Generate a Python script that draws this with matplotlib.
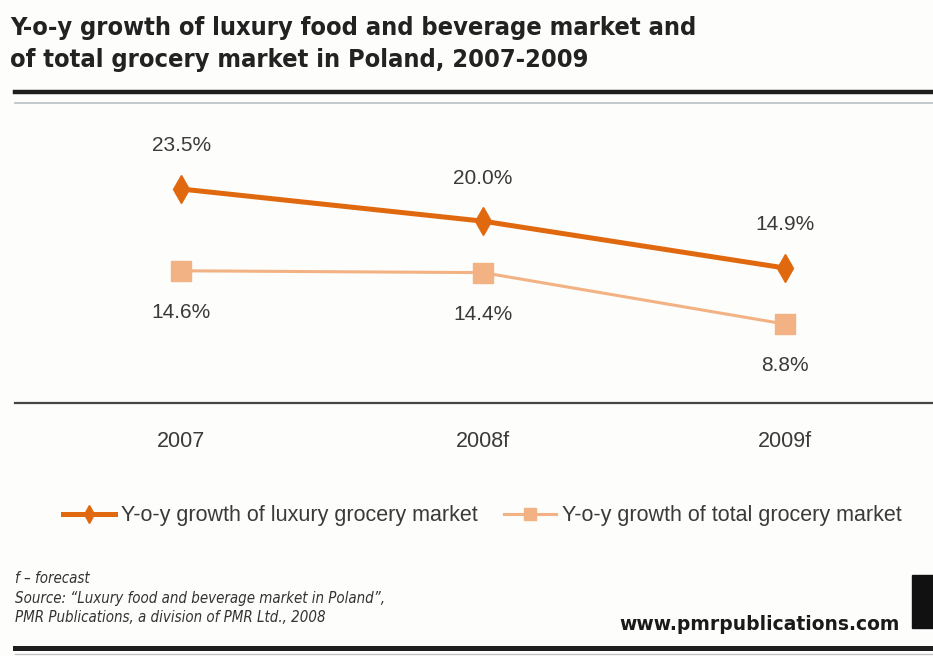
import matplotlib
matplotlib.use("Agg")
import matplotlib.pyplot as plt
from matplotlib.lines import Line2D
from matplotlib.patches import Rectangle

# data
years = ["2007", "2008f", "2009f"]
luxury = [23.5, 20.0, 14.9]
total = [14.6, 14.4, 8.8]
series_names = ["Y-o-y growth of luxury grocery market",
                "Y-o-y growth of total grocery market"]

DARK = "#E0690F"
LIGHT = "#F2B283"
TXT = "#3a3a3a"
BG = "#FDFDFB"

W, H = 933, 656
fig = plt.figure(figsize=(W / 100, H / 100), dpi=100, facecolor=BG)


def fx(px):
    return px / W


def fy(py):
    return 1 - py / H


# plot area: axis line at y=403 px, runs from x=15 px to right edge
ax = fig.add_axes([fx(15), fy(403), 1 - fx(15), fy(110) - fy(403)])
ax.set_facecolor(BG)
x = list(range(len(years)))

ax.plot(x, luxury, color=DARK, lw=3.6, marker="d", ms=14, mec=DARK, mfc=DARK,
        label=series_names[0], zorder=3)
ax.plot(x, total, color=LIGHT, lw=2.2, marker="s", ms=15, mec=LIGHT, mfc=LIGHT,
        label=series_names[1], zorder=2)

for xi, v in zip(x, luxury):
    ax.annotate(f"{v:.1f}%", (xi, v), xytext=(0, 31), textcoords="offset points",
                ha="center", va="center", fontsize=15, color=TXT,
                family="Liberation Sans")
for xi, v in zip(x, total):
    ax.annotate(f"{v:.1f}%", (xi, v), xytext=(0, -30), textcoords="offset points",
                ha="center", va="center", fontsize=15, color=TXT,
                family="Liberation Sans")

ax.set_xlim(-0.55, 2.49)
ax.set_ylim(0.21, 32.1)
ax.set_yticks([])
ax.set_xticks(x)
ax.set_xticklabels(years, fontsize=15.5, color=TXT, family="Liberation Sans")
ax.tick_params(axis="x", length=0, pad=20)
for s in ["top", "left", "right"]:
    ax.spines[s].set_visible(False)
ax.spines["bottom"].set_color("#454545")
ax.spines["bottom"].set_linewidth(1.6)

# legend
leg = fig.legend(loc="center left", bbox_to_anchor=(fx(44), fy(516)), ncol=2,
                 frameon=False, handlelength=2.4, handletextpad=0.3,
                 columnspacing=1.2, prop={"family": "Liberation Sans", "size": 15.5})
for t in leg.get_texts():
    t.set_color(TXT)
for h, ms in zip(leg.legend_handles, [9, 8]):
    h.set_markersize(ms)

# title
fig.text(fx(10), fy(44), "Y-o-y growth of luxury food and beverage market and\n"
         "of total grocery market in Poland, 2007-2009",
         ha="left", va="center", fontsize=18.2, fontweight="bold", color="#222222",
         family="DejaVu Sans", fontstretch="condensed", linespacing=1.43)

# rules at top and bottom
fig.add_artist(Line2D([fx(15), 1], [fy(92), fy(92)], color="#1e1e1e", lw=3.2))
fig.add_artist(Line2D([fx(15), 1], [fy(103), fy(103)], color="#b9bfc3", lw=1.2))
fig.add_artist(Line2D([fx(15), 1], [fy(648), fy(648)], color="#1e1e1e", lw=3.6))
fig.add_artist(Line2D([fx(15), 1], [fy(654), fy(654)], color="#b9bfc3", lw=0.9))

# footer
fig.text(fx(15), fy(598), "f – forecast\nSource: \u201cLuxury food and beverage market in Poland\u201d,\n"
         "PMR Publications, a division of PMR Ltd., 2008",
         ha="left", va="center", fontsize=10.8, style="italic", color="#333333",
         family="DejaVu Sans", fontstretch="condensed", linespacing=1.4)
fig.text(fx(900), fy(625), "www.pmrpublications.com", ha="right", va="center",
         fontsize=13.5, fontweight="bold", color="#1a1a1a", family="DejaVu Sans")
fig.add_artist(Rectangle((fx(912), fy(628)), 1 - fx(912), fy(575) - fy(628),
                         transform=fig.transFigure, color="#111111"))

fig.savefig("out.png", dpi=100, facecolor=BG)
